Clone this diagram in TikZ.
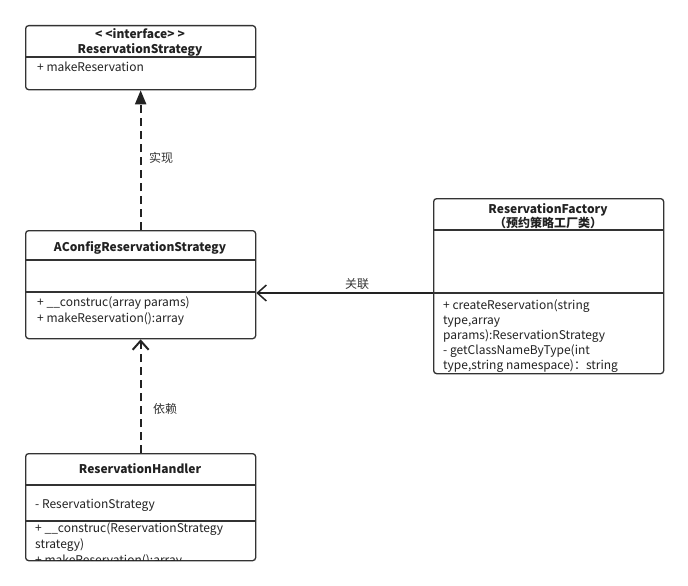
\documentclass[tikz,border=0pt]{standalone}
\usepackage{fontspec}
\setmainfont{Noto Sans CJK SC}
\usetikzlibrary{arrows.meta, positioning}
\definecolor{linec}{HTML}{333333}
\definecolor{txtc}{HTML}{222222}
\tikzset{
  cls/.style={draw=linec, line width=1.3pt, rounded corners=3pt, anchor=north west, minimum width=230pt, inner sep=0pt},
  div/.style={draw=linec, line width=1.3pt},
  ttl/.style={font=\fontsize{12}{15}\selectfont\bfseries, text=txtc, anchor=base, inner sep=0pt},
  mem/.style={font=\fontsize{12}{15}\selectfont, text=txtc, anchor=base west, inner sep=0pt},
  lbl/.style={font=\fontsize{12}{15}\selectfont, text=linec, inner sep=0pt},
  realize/.style={line width=2pt, draw=txtc, dash pattern=on 8pt off 5pt, -{Triangle[width=11pt,length=14pt]}},
  depend/.style={line width=2pt, draw=txtc, dash pattern=on 8pt off 5pt, -{Straight Barb[width=16pt,length=9pt]}},
  assoc/.style={line width=1.5pt, draw=txtc, -{Straight Barb[width=16pt,length=9pt]}},
}
\begin{document}
\begin{tikzpicture}[x=1pt, y=-1pt]
\useasboundingbox[fill=white] (0,0) rectangle (688,586);
\def\lx{25}
\def\rx{433}
%interface
\node[cls, minimum height=64pt] (iface) at (\lx,25) {};
\draw[div] (\lx,57) -- ++(230,0);
\node[ttl] (ifaceS) at (140,38.5) {<\kern3pt<interface>\kern3pt>};
\node[ttl] (ifaceN) at (140,54) {ReservationStrategy};
\node[mem] (ifaceM) at (\lx+12,71) {+ makeReservation};
%strategy
\node[cls, minimum height=108pt] (aconf) at (\lx,230) {};
\draw[div] (\lx,260) -- ++(230,0);
\draw[div] (\lx,292) -- ++(230,0);
\node[ttl] (aconfN) at (140,251) {AConfigReservationStrategy};
\foreach \t [count=\i] in {+ \_\_construc(array params), + makeReservation():array}
  \node[mem] (aconfM\i) at (\lx+12,290+16*\i) {\t};
%factory
\node[cls, minimum height=175pt] (factory) at (\rx,198) {};
\draw[div] (\rx,230) -- ++(230,0);
\coordinate (fdiv) at (\rx,293);
\draw[div] (fdiv) -- ++(230,0);
\node[ttl] (factoryN) at (548,213) {ReservationFactory};
\node[ttl] (factoryC) at (548,227.5) {（预约策略工厂类）};
\foreach \t [count=\i] in {+ createReservation(string, type{,}array, params):ReservationStrategy,
  - getClassNameByType(int, type{,}string namespace)：string}
  \node[mem] (factoryM\i) at (\rx+10,294+15*\i) {\t};
%handler
\node[cls, minimum height=107pt] (handler) at (\lx,453) {};
\draw[div] (\lx,485) -- ++(230,0);
\draw[div] (\lx,521) -- ++(230,0);
\node[ttl] (handlerN) at (140,473.5) {ReservationHandler};
\node[mem] (handlerA) at (\lx+10,508.5) {- ReservationStrategy};
\begin{scope}
\clip (\lx,453) rectangle ++(230,107);
\foreach \t [count=\i] in {+ \_\_construc(ReservationStrategy, strategy), + makeReservation():array}
  \node[mem] (handlerM\i) at (\lx+10,516+16*\i) {\t};
\end{scope}
%relations
\draw[realize] (aconf.north) -- (iface.south);
\draw[depend] (handler.north) -- (aconf.south);
\draw[assoc] (fdiv) -- (aconf.east |- fdiv);
%labels
\node[lbl] (lblReal) at (161,158) {实现};
\node[lbl] (lblDep) at (165,409) {依赖};
\node[lbl] (lblAssoc) at (357,284) {关联};
\end{tikzpicture}
\end{document}
